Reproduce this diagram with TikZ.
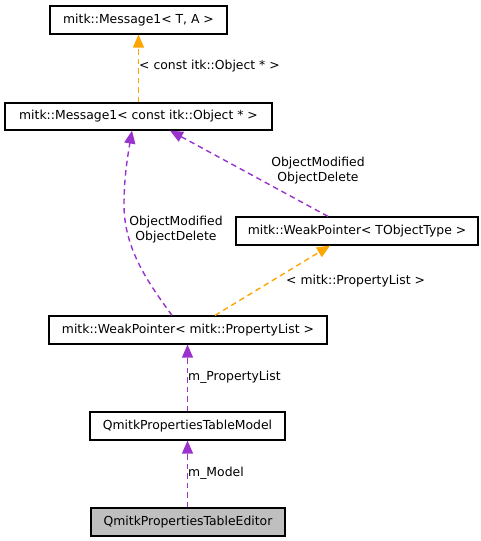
\documentclass[tikz,border=0pt]{standalone}
\usepackage{fontspec}
\setmainfont{DejaVu Sans}
\usetikzlibrary{arrows.meta}
\definecolor{edgepurple}{HTML}{9A32CD}
\definecolor{edgeorange}{HTML}{FFA500}
\definecolor{boxgray}{HTML}{BFBFBF}
\begin{document}
\begin{tikzpicture}[x=1pt,y=-1pt,
  font=\fontsize{12.4}{15}\selectfont,
  cls/.style={draw=black,line width=1.2pt,fill=white,minimum height=28pt,inner sep=0pt},
  rel/.style={dash pattern=on 5.5pt off 4pt,line width=1.4pt,-{Triangle[length=13pt,width=11pt]}},
  usage/.style={rel,draw=edgepurple},
  tmpl/.style={rel,draw=edgeorange},
  lbl/.style={inner sep=0pt,align=center,text=black}]
\useasboundingbox (0,0) rectangle (481,541);
\node[cls,minimum width=177pt] (b1) at (138.5,20) {mitk::Message1< T, A >};
\node[cls,minimum width=267pt,minimum height=27pt] (b2) at (138.5,116.5) {mitk::Message1< const itk::Object * >};
\node[cls,minimum width=242pt] (b3) at (357,231) {mitk::WeakPointer< TObjectType >};
\node[cls,minimum width=278pt] (b4) at (188,330) {mitk::WeakPointer< mitk::PropertyList >};
\node[cls,minimum width=195pt] (b5) at (187.5,426) {QmitkPropertiesTableModel};
\node[cls,minimum width=194pt,fill=boxgray] (b6) at (188,522) {QmitkPropertiesTableEditor};
% edges
\draw[tmpl] (b2.north) -- (b1.south);
\draw[usage] ([xshift=-16pt]b4.north) .. controls (150,285) and (124,250) .. (124,205) .. controls (124,180) and (127,160) .. ([xshift=-6.5pt]b2.south);
\draw[usage] ([xshift=-29pt]b3.north) -- ([xshift=31.5pt]b2.south);
\draw[tmpl] ([xshift=27pt]b4.north) -- ([xshift=-27pt]b3.south);
\draw[usage] (b5.north) -- ([xshift=-0.5pt]b4.south);
\draw[usage] ([xshift=-0.5pt]b6.north) -- (b5.south);
% labels
\node[lbl,anchor=west] (l1) at (139,66) {< const itk::Object * >};
\node[lbl] (l2) at (318,171) {ObjectModified\\ObjectDelete};
\node[lbl] (l3) at (176,230) {ObjectModified\\ObjectDelete};
\node[lbl,anchor=west] (l4) at (286,281) {< mitk::PropertyList >};
\node[lbl,anchor=west] (l5) at (188,377) {m\_PropertyList};
\node[lbl,anchor=west] (l6) at (188,473) {m\_Model};
\end{tikzpicture}
\end{document}
